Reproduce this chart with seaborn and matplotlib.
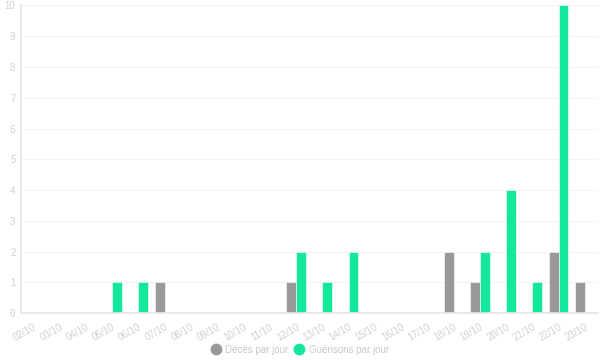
import pandas as pd
import numpy as np
import matplotlib.pyplot as plt
import seaborn as sns
from matplotlib.lines import Line2D

days = ['02/10', '03/10', '04/10', '05/10', '06/10', '07/10', '08/10', '09/10',
        '10/10', '11/10', '12/10', '13/10', '14/10', '15/10', '16/10', '17/10',
        '18/10', '19/10', '20/10', '21/10', '22/10', '23/10']
deces = [0, 0, 0, 0, 0, 1, 0, 0, 0, 0, 1, 0, 0, 0, 0, 0, 2, 1, 0, 0, 2, 1]
guerisons = [0, 0, 0, 1, 1, 0, 0, 0, 0, 0, 2, 1, 2, 0, 0, 0, 0, 2, 4, 1, 10, 0]
series = ['Décès par jour', 'Guérisons par jour']
colors = ['#999999', '#13e89a']

df = pd.DataFrame({
    'jour': days * 2,
    'valeur': deces + guerisons,
    'serie': [series[0]] * len(days) + [series[1]] * len(days),
})

sns.set_theme(style='white')
plt.rcParams['font.family'] = ['Liberation Sans', 'DejaVu Sans']

fig = plt.figure(figsize=(6, 3.6), dpi=100)
ax = fig.add_axes([0.035, 0.13, 0.962, 0.855])

sns.barplot(data=df, x='jour', y='valeur', hue='serie', palette=colors,
            saturation=1, width=0.74, ax=ax, legend=False,
            edgecolor='white', linewidth=0.4)

ax.set_ylim(0, 10)
ax.set_xlim(-0.46, 21.5)
ax.set_yticks(range(0, 11))
ax.yaxis.grid(True, color='#f2f2f2', linewidth=0.8)
ax.set_axisbelow(True)
ax.set_xlabel('')
ax.set_ylabel('')

for side in ['top', 'right']:
    ax.spines[side].set_visible(False)
for side in ['left', 'bottom']:
    ax.spines[side].set_color('#e6e6e6')

ax.tick_params(axis='both', colors='#e0e0e0', labelcolor='#d0d0d0',
               labelsize=7, length=3, width=0.8)
ax.tick_params(axis='y', length=0, pad=4)
plt.setp(ax.get_xticklabels(), rotation=30, ha='right', rotation_mode='anchor')

handles = [Line2D([0], [0], marker='o', color='none', markerfacecolor=c,
                  markeredgecolor=c, markersize=7.5) for c in colors]
fig.legend(handles, series, loc='lower center', bbox_to_anchor=(0.5, -0.01),
           ncol=2, frameon=False, fontsize=7, labelcolor='#c8c8c8',
           handletextpad=0.5, columnspacing=0.6, handlelength=1)

fig.savefig('out.png', dpi=100)
